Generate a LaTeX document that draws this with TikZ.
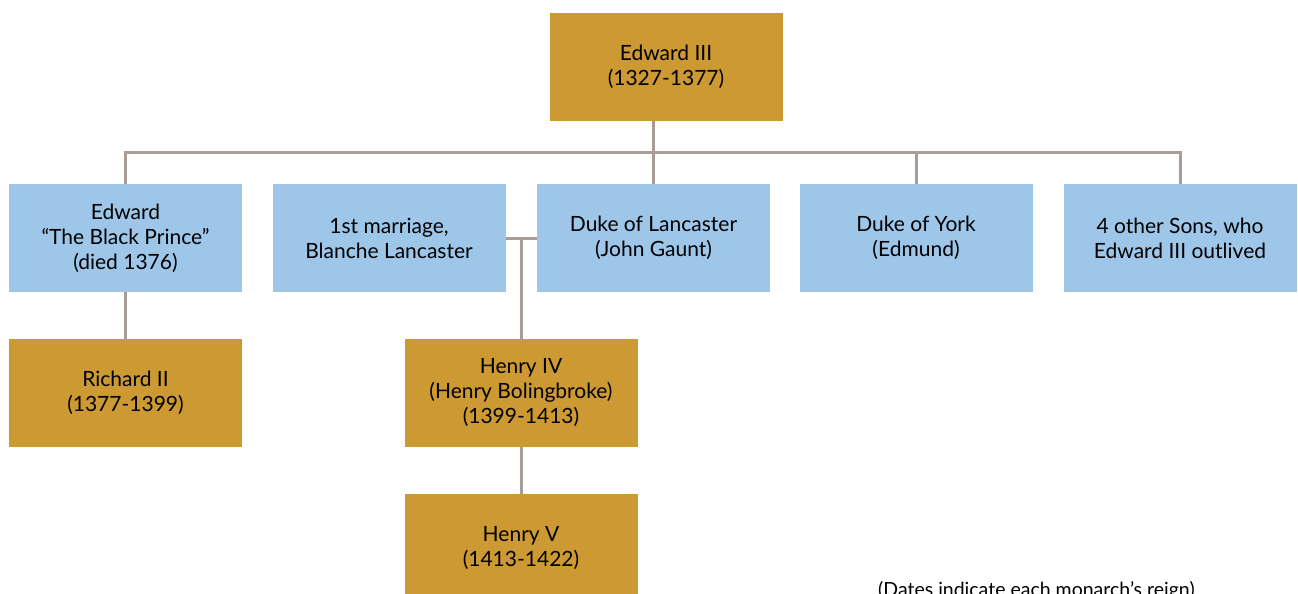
\documentclass[tikz,border=0pt]{standalone}
\usepackage{fontspec}
\setmainfont{Lato}
\begin{document}
\begin{tikzpicture}[x=1pt,y=-1pt,
  boxbase/.style={draw=none, minimum width=233pt, minimum height=108pt, align=center, font=\fontsize{21}{25}\selectfont, inner sep=0pt},
  gold/.style={boxbase, fill=goldc},
  blue/.style={boxbase, fill=bluec},
  conn/.style={draw=linec, line width=3pt}]
\definecolor{goldc}{RGB}{204,153,51}
\definecolor{bluec}{RGB}{157,198,233}
\definecolor{linec}{RGB}{168,156,152}
\useasboundingbox (0,0) rectangle (1298,594);
\clip (0,0) rectangle (1298,594);
\node[gold] (e3) at (666,67) {Edward III\\(1327-1377)};
\node[blue] (bp) at (125.5,238) {Edward\\“The Black Prince”\\(died 1376)};
\node[blue] (m1) at (389,238) {1st marriage,\\Blanche Lancaster};
\node[blue] (lanc) at (653.5,238) {Duke of Lancaster\\(John Gaunt)};
\node[blue] (york) at (916,238) {Duke of York\\(Edmund)};
\node[blue] (oth) at (1180,238) {4 other Sons, who\\Edward III outlived};
\node[gold] (r2) at (125.5,393) {Richard II\\(1377-1399)};
\node[gold] (h4) at (521,393) {Henry IV\\(Henry Bolingbroke)\\(1399-1413)};
\node[gold] (h5) at (521,548) {Henry V\\(1413-1422)};
\node[anchor=north west, inner sep=0pt, font=\fontsize{19.5}{22}\selectfont] (note) at (878,581) {(Dates indicate each monarch’s reign)};
\coordinate (hl) at (0,152);
\draw[conn] (bp.north) -- (bp.north |- hl) -- (oth.north |- hl) -- (oth.north);
\draw[conn] (lanc.north |- e3.south) -- (lanc.north);
\draw[conn] (york.north |- hl) -- (york.north);
\draw[conn] (bp.south) -- (r2.north);
\draw[conn] (m1.east) -- (lanc.west);
\draw[conn] (h4.north |- m1.east) -- (h4.north);
\draw[conn] (h4.south) -- (h5.north);
\end{tikzpicture}
\end{document}
